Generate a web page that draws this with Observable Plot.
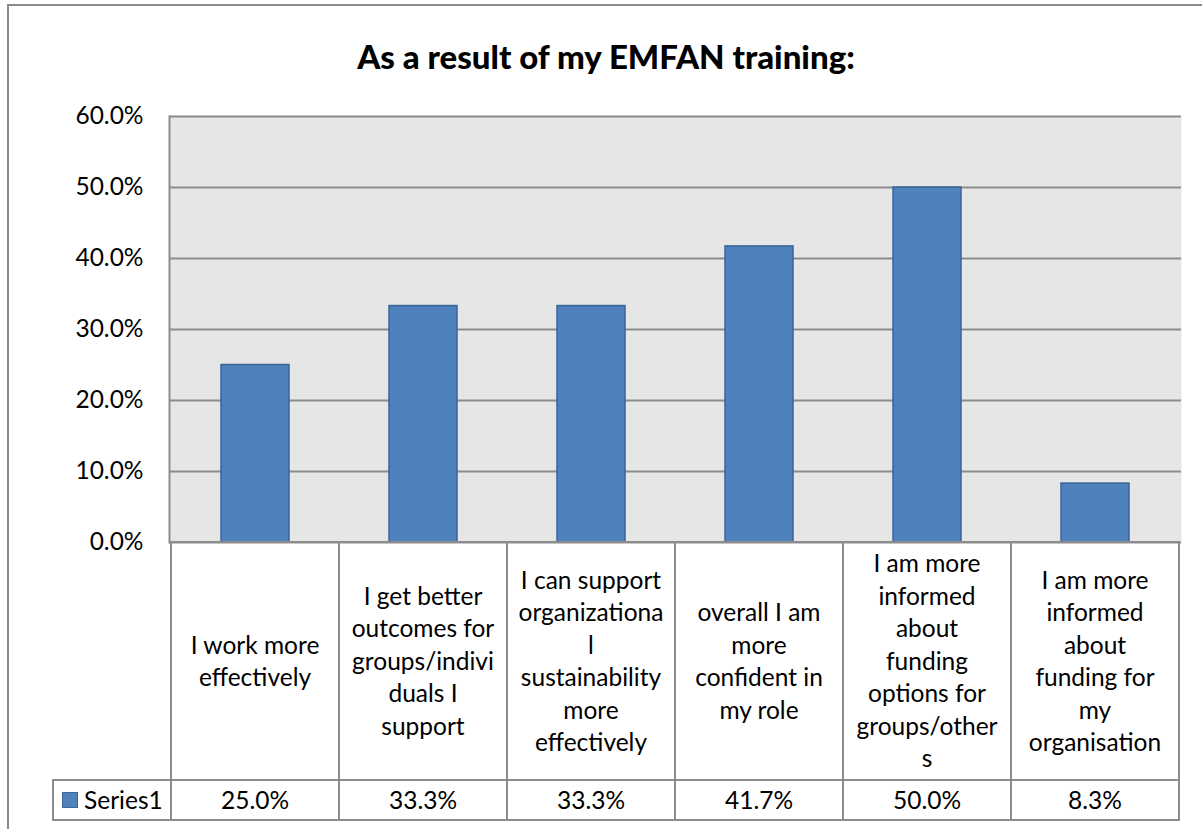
<!DOCTYPE html>
<html>
<head>
<meta charset="utf-8">
<script src="https://cdn.jsdelivr.net/npm/d3@7"></script>
<script src="https://cdn.jsdelivr.net/npm/@observablehq/plot@0.6"></script>
<style>
  html, body { margin: 0; padding: 0; background: #fff; width: 1202px; height: 829px; overflow: hidden; }
  body { font-family: Lato, "Open Sans", sans-serif; color: #000; position: relative; }
  #frame { position: absolute; left: 7px; top: 4px; width: 1300px; height: 900px; border: 2px solid #8a8a8a; box-sizing: border-box; }
  #title { position: absolute; left: 0; width: 1212px; top: 36px; line-height: 40px; text-align: center; font-weight: 900; font-size: 33px; }
  #chart { position: absolute; left: 0; top: 0; }
  .cell { position: absolute; box-sizing: border-box; border: 2px solid #8c8c8c; display: flex; align-items: center; justify-content: center; text-align: center; white-space: pre; line-height: 32.5px; font-size: 24.5px; }
  .legend { justify-content: flex-start; padding-left: 8px; }
  .swatch { display: inline-block; width: 16px; height: 16px; box-sizing: border-box; background: #4f81bd; border: 1.5px solid #3b6696; margin-right: 6px; }
</style>
</head>
<body>
<div id="frame"></div>
<div id="title"></div>
<div id="chart"></div>
<div id="table"></div>
<script>
// ---- data ----
const titleText = "As a result of my EMFAN training:";
const seriesName = "Series1";
const categories = [
  "I work more\neffectively",
  "I get better\noutcomes for\ngroups/indivi\nduals I\nsupport",
  "I can support\norganizationa\nl\nsustainability\nmore\neffectively",
  "overall I am\nmore\nconfident in\nmy role",
  "I am more\ninformed\nabout\nfunding\noptions for\ngroups/other\ns",
  "I am more\ninformed\nabout\nfunding for\nmy\norganisation"
];
const values = [0.25, 0.333, 0.333, 0.417, 0.50, 0.083];
const yTicks = [0, 0.1, 0.2, 0.3, 0.4, 0.5, 0.6];

document.getElementById("title").textContent = titleText;

// ---- chart ----
const data = categories.map((c, i) => ({category: c, value: values[i]}));
const fmt = d3.format(".1%");
const barFill = "#4f81bd", barStroke = "#3a6597", gridColor = "#8c8c8c";

const chart = Plot.plot({
  width: 1202,
  height: 560,
  marginTop: 116,
  marginBottom: 18,
  marginLeft: 169,
  marginRight: 21,
  style: {fontFamily: "Lato, 'Open Sans', sans-serif", fontSize: "24px", color: "#000", background: "transparent", overflow: "visible"},
  x: {domain: categories, paddingInner: 0.594, paddingOuter: 0.297, axis: null},
  y: {domain: [0, 0.6], axis: null},
  marks: [
    Plot.frame({fill: "#e6e6e6", stroke: "none"}),
    Plot.ruleY(yTicks, {stroke: gridColor, strokeWidth: 2}),
    Plot.barY(data, {x: "category", y: "value", fill: barFill, stroke: barStroke, strokeWidth: 1.5}),
    Plot.frame({anchor: "left", stroke: gridColor, strokeWidth: 2}),
    Plot.axisY({ticks: yTicks, tickFormat: fmt, tickSize: 0, tickPadding: 26, label: null, fontSize: 24.5})
  ]
});
document.getElementById("chart").appendChild(chart);

// ---- data table under the chart, aligned with the x scale ----
const xs = chart.scale("x");
const ys = chart.scale("y");
const step = xs.step;
const top0 = ys.apply(0);
const table = document.getElementById("table");
const rowTop = top0 - 1;
const valueTop = 779;
const valueH = 42;
categories.forEach((c, i) => {
  const center = xs.apply(c) + xs.bandwidth / 2;
  const left = center - step / 2;
  const cat = document.createElement("div");
  cat.className = "cell";
  cat.style.left = (left - 1) + "px";
  cat.style.width = (step + 2) + "px";
  cat.style.top = rowTop + "px";
  cat.style.height = (valueTop - rowTop + 2) + "px";
  cat.textContent = c;
  table.appendChild(cat);
  const val = document.createElement("div");
  val.className = "cell";
  val.style.left = (left - 1) + "px";
  val.style.width = (step + 2) + "px";
  val.style.top = valueTop + "px";
  val.style.height = valueH + "px";
  val.textContent = fmt(values[i]);
  table.appendChild(val);
});
const leg = document.createElement("div");
leg.className = "cell legend";
const firstLeft = xs.apply(categories[0]) + xs.bandwidth / 2 - step / 2;
leg.style.left = "52px";
leg.style.width = (firstLeft - 52 + 1) + "px";
leg.style.top = valueTop + "px";
leg.style.height = valueH + "px";
const sw = document.createElement("span");
sw.className = "swatch";
leg.appendChild(sw);
leg.appendChild(document.createTextNode(seriesName));
table.appendChild(leg);
</script>
</body>
</html>
